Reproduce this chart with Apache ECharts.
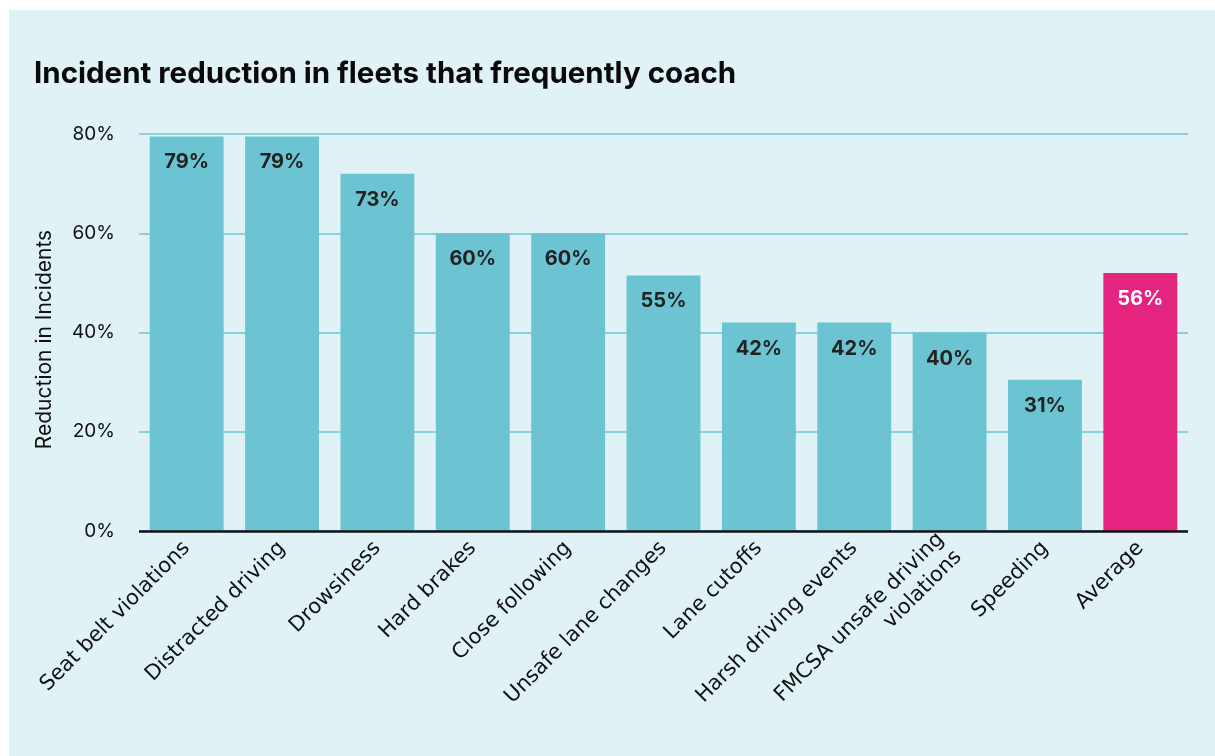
<!DOCTYPE html>
<html>
<head>
<meta charset="utf-8">
<script src="https://cdn.jsdelivr.net/npm/echarts@6/dist/echarts.min.js"></script>
<style>
	html, body { margin: 0; padding: 0; background: #ffffff; }
	#panel { position: absolute; left: 9px; top: 10px; right: 0; bottom: 0; background: #e0f2f5; }
	#main { position: absolute; left: 0; top: 0; width: 1215px; height: 756px; }
</style>
</head>
<body>
<div id="panel"></div>
<div id="main"></div>
<script>
	// 数据
	var categories = [
		"Seat belt violations",
		"Distracted driving",
		"Drowsiness",
		"Hard brakes",
		"Close following",
		"Unsafe lane changes",
		"Lane cutoffs",
		"Harsh driving events",
		"FMCSA unsafe driving\nviolations",
		"Speeding",
		"Average"
	];
	// bar heights as drawn in the picture
	var barHeights = [79.5, 79.5, 72, 60, 60, 51.5, 42, 42, 40, 30.5, 52];
	// printed labels
	var barLabels = ["79%", "79%", "73%", "60%", "60%", "55%", "42%", "42%", "40%", "31%", "56%"];
	var yTicks = [0, 20, 40, 60, 80];

	var barColor = "#6cc4d3";
	var avgColor = "#e5247f";
	var font = "Inter, 'Noto Sans', sans-serif";
	var labelFont = "'DejaVu Sans', sans-serif";

	var myChart = echarts.init(document.getElementById("main"), null, { renderer: "canvas" });

	var seriesData = barHeights.map(function(v, i) {
		var isAvg = categories[i] === "Average";
		return {
			value: v,
			itemStyle: { color: isAvg ? avgColor : barColor },
			label: { color: isAvg ? "#ffffff" : "#222222" }
		};
	});

	var option = {
		animation: false,
		backgroundColor: "transparent",
		textStyle: { fontFamily: font },
		title: {
			text: "Incident reduction in fleets that frequently coach",
			left: 29,
			top: 54,
			textStyle: {
				fontFamily: font,
				fontSize: 29.5,
				fontWeight: "bold",
				color: "#0a0a0a"
			}
		},
		grid: {
			left: 139,
			top: 134,
			width: 1049,
			height: 397
		},
		xAxis: {
			type: "category",
			data: categories,
			axisTick: { show: false },
			axisLine: { show: false },
			axisLabel: {
				interval: 0,
				rotate: 45,
				margin: 14,
				fontSize: 21,
				color: "#111111",
				fontFamily: labelFont,
				lineHeight: 25
			}
		},
		yAxis: {
			type: "value",
			min: yTicks[0],
			max: yTicks[yTicks.length - 1],
			interval: 20,
			name: "Reduction in Incidents",
			nameLocation: "middle",
			nameGap: 84,
			nameTextStyle: {
				fontSize: 21,
				color: "#111111",
				fontFamily: font,
				padding: [0, 14, 0, 0]
			},
			axisLine: { show: false },
			axisTick: { show: false },
			axisLabel: {
				formatter: "{value}%",
				fontSize: 19,
				margin: 24,
				color: "#111111",
				fontFamily: font
			},
			splitLine: {
				lineStyle: { color: "#6cc4d3", width: 1.5 }
			}
		},
		series: [{
			type: "bar",
			data: seriesData,
			barCategoryGap: "22.5%",
			label: {
				show: true,
				position: "insideTop",
				distance: 16,
				fontSize: 20,
				fontWeight: "bold",
				fontFamily: font,
				formatter: function(p) {
					return barLabels[p.dataIndex];
				}
			},
			markLine: {
				silent: true,
				symbol: "none",
				label: { show: false },
				lineStyle: { color: "#111111", width: 2.5, type: "solid" },
				data: [{ yAxis: 0 }]
			}
		}]
	};

	myChart.setOption(option);
</script>
</body>
</html>
